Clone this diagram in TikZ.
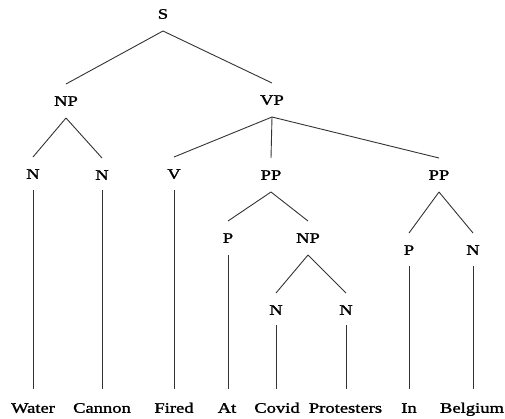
\documentclass[tikz,border=0pt]{standalone}
\usepackage{fontspec}
\setmainfont{Liberation Serif}[FakeStretch=1.28,FakeBold=1.5]
\begin{document}
\begin{tikzpicture}[x=1pt,y=-1pt,
  lab/.style={inner sep=0pt,outer sep=0pt,text height=9.5pt,text depth=0pt,font=\fontsize{14.5pt}{15pt}\selectfont,text=black},
  br/.style={draw=black!80,line width=0.9pt}]
\useasboundingbox (0,0) rectangle (505,418);
\newcommand\treeedge[2]{\draw[br] ([yshift=-12.25pt]#1.south) -- ([yshift=12.25pt]#2.north);}
\newcommand\leafedge[3]{\draw[br] ([yshift=-#3]#1.south) -- ([yshift=14.25pt]#1.south |- #2.north);}
% phrase nodes
\node[lab] (S) at (163,14) {S};
\node[lab] (NPa) at (66,101) {NP};
\node[lab] (VP) at (272,100) {VP};
\node[lab] (Na) at (33,174) {N};
\node[lab] (Nb) at (102,175) {N};
\node[lab] (V) at (174,174) {V};
\node[lab] (PPa) at (271,175) {PP};
\node[lab] (PPb) at (439,175) {PP};
\node[lab] (Pa) at (228,238) {P};
\node[lab] (NPb) at (308,238) {NP};
\node[lab] (Nc) at (276,310) {N};
\node[lab] (Nd) at (346,310) {N};
\node[lab] (Pb) at (409,250) {P};
\node[lab] (Ne) at (473,250) {N};
% words
\node[lab] (w1) at (33,408) {Water};
\node[lab] (w2) at (102,408) {Cannon};
\node[lab] (w3) at (174,408) {Fired};
\node[lab] (w4) at (227,408) {At};
\node[lab] (w5) at (277,408) {Covid};
\node[lab] (w6) at (345.5,408) {Protesters};
\node[lab] (w7) at (409,408) {In};
\node[lab] (w8) at (472,408) {Belgium};
% branches
\treeedge{S}{NPa}
\treeedge{S}{VP}
\treeedge{NPa}{Na}
\treeedge{NPa}{Nb}
\treeedge{VP}{V}
\treeedge{VP}{PPa}
\treeedge{VP}{PPb}
\treeedge{PPa}{Pa}
\treeedge{PPa}{NPb}
\treeedge{NPb}{Nc}
\treeedge{NPb}{Nd}
\treeedge{PPb}{Pb}
\treeedge{PPb}{Ne}
% leaves
\leafedge{Na}{w1}{11.25pt}
\leafedge{Nb}{w2}{10.25pt}
\leafedge{V}{w3}{11.25pt}
\leafedge{Pa}{w4}{12.25pt}
\leafedge{Nc}{w5}{10.25pt}
\leafedge{Nd}{w6}{10.25pt}
\leafedge{Pb}{w7}{11.25pt}
\leafedge{Ne}{w8}{11.25pt}
\end{tikzpicture}
\end{document}
